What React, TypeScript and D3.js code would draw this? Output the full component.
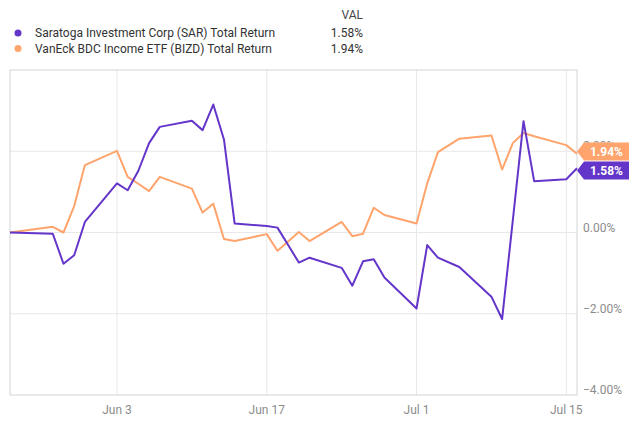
import React from "react";
import * as d3 from "d3";

const dates = [
  "2019-05-24", "2019-05-28", "2019-05-29", "2019-05-30", "2019-05-31",
  "2019-06-03", "2019-06-04", "2019-06-05", "2019-06-06", "2019-06-07",
  "2019-06-10", "2019-06-11", "2019-06-12", "2019-06-13", "2019-06-14",
  "2019-06-17", "2019-06-18", "2019-06-19", "2019-06-20", "2019-06-21",
  "2019-06-24", "2019-06-25", "2019-06-26", "2019-06-27", "2019-06-28",
  "2019-07-01", "2019-07-02", "2019-07-03", "2019-07-05",
  "2019-07-08", "2019-07-09", "2019-07-10", "2019-07-11", "2019-07-12",
  "2019-07-15", "2019-07-16",
];

const sarValues = [
  0, -0.03, -0.77, -0.56, 0.26,
  1.21, 1.04, 1.52, 2.2, 2.6,
  2.75, 2.52, 3.15, 2.29, 0.22,
  0.16, 0.12, -0.31, -0.74, -0.62,
  -0.87, -1.31, -0.71, -0.66, -1.11,
  -1.87, -0.31, -0.62, -0.85,
  -1.58, -2.13, 0.3, 2.74, 1.26,
  1.31, 1.58,
];

const bizdValues = [
  0, 0.14, 0, 0.65, 1.66,
  2.01, 1.37, 1.2, 1.02, 1.37,
  1.08, 0.49, 0.71, -0.16, -0.21,
  -0.04, -0.45, -0.22, 0.01, -0.21,
  0.26, -0.09, -0.03, 0.61, 0.43,
  0.22, 1.21, 1.98, 2.31,
  2.39, 1.55, 2.2, 2.45, 2.37,
  2.15, 1.94,
];

const seriesNames = [
  "Saratoga Investment Corp (SAR) Total Return",
  "VanEck BDC Income ETF (BIZD) Total Return",
];
const lastValues = ["1.58%", "1.94%"];
const xTickDates = ["2019-06-03", "2019-06-17", "2019-07-01", "2019-07-15"];
const xTickLabels = ["Jun 3", "Jun 17", "Jul 1", "Jul 15"];
const yTicks = [-4, -2, 0, 2];
const xDomain = ["2019-05-24", "2019-07-16"];
const yDomain = [-4, 4];

const PURPLE = "#6435c9";
const ORANGE = "#fea46c";
const FONT = "Roboto, 'Noto Sans', sans-serif";

export default function App() {
  const W = 640, H = 425;
  const left = 10, right = 577, top = 70, bottom = 395;
  const parse = (s: string) => new Date(s + "T00:00:00Z");
  const x = d3.scaleUtc().domain(xDomain.map(parse)).range([left, right]);
  const y = d3.scaleLinear().domain(yDomain).range([bottom, top]);
  const pts = dates.map(parse);
  const line = d3.line<[Date, number]>().x((d) => x(d[0])).y((d) => y(d[1]));
  const sarPath = line(pts.map((d, i) => [d, sarValues[i]] as [Date, number])) || "";
  const bizdPath = line(pts.map((d, i) => [d, bizdValues[i]] as [Date, number])) || "";

  const sarLast = sarValues[sarValues.length - 1];
  const bizdLast = bizdValues[bizdValues.length - 1];
  const boxH = 18;
  let cyB = y(bizdLast);
  let cyS = y(sarLast);
  if (cyS - cyB < boxH + 1) {
    const mid = (cyS + cyB) / 2;
    cyB = Math.min(cyB, mid - (boxH + 1) / 2 + 0);
    cyS = cyB + boxH + 1;
  }
  const x0 = right, x1 = 629;
  const tag = (cy: number) =>
    `M${x0},${cy} L${x0 + 7},${cy - boxH / 2} L${x1},${cy - boxH / 2} L${x1},${cy + boxH / 2} L${x0 + 7},${cy + boxH / 2} Z`;

  return (
    <svg width={W} height={H} style={{ position: "absolute", left: 0, top: 0, background: "#fff" }} fontFamily={FONT}>
      {/* legend */}
      <text x={363} y={19} fontSize={12} fill="#444" textAnchor="end">VAL</text>
      {seriesNames.map((n, i) => (
        <g key={n}>
          <circle cx={18} cy={33 + i * 15.5} r={3.5} fill={i === 0 ? PURPLE : ORANGE} />
          <text x={35} y={37 + i * 15.5} fontSize={12} fill="#333">{n}</text>
          <text x={363} y={37 + i * 15.5} fontSize={12} fill="#333" textAnchor="end">{lastValues[i]}</text>
        </g>
      ))}
      {/* grid */}
      {yTicks.filter((t) => t > yDomain[0]).map((t) => (
        <line key={"h" + t} x1={left} x2={right} y1={y(t)} y2={y(t)} stroke="#e8e8e8" strokeWidth={1} />
      ))}
      {xTickDates.map((d) => (
        <line key={"v" + d} x1={x(parse(d))} x2={x(parse(d))} y1={top} y2={bottom} stroke="#e8e8e8" strokeWidth={1} />
      ))}
      <rect x={left} y={top} width={right - left} height={bottom - top} fill="none" stroke="#d4d4d4" strokeWidth={1} />
      {/* lines */}
      <path d={bizdPath} fill="none" stroke={ORANGE} strokeWidth={2} strokeLinejoin="round" />
      <path d={sarPath} fill="none" stroke={PURPLE} strokeWidth={2} strokeLinejoin="round" />
      {/* y labels */}
      {yTicks.map((t) => (
        <text key={"yl" + t} x={583} y={y(t) - 1} fontSize={12} fill="#8c8c8c">{d3.format(".2f")(t) + "%"}</text>
      ))}
      {/* x labels */}
      {xTickDates.map((d, i) => (
        <text key={"xl" + d} x={x(parse(d))} y={414} fontSize={12} fill="#8c8c8c" textAnchor="middle">{xTickLabels[i]}</text>
      ))}
      {/* end tags */}
      <path d={tag(cyB)} fill={ORANGE} />
      <text x={(x0 + 7 + x1) / 2} y={cyB + 4.5} fontSize={12} fontWeight="bold" fill="#fff" textAnchor="middle">{lastValues[1]}</text>
      <path d={tag(cyS)} fill={PURPLE} />
      <text x={(x0 + 7 + x1) / 2} y={cyS + 4.5} fontSize={12} fontWeight="bold" fill="#fff" textAnchor="middle">{lastValues[0]}</text>
    </svg>
  );
}
